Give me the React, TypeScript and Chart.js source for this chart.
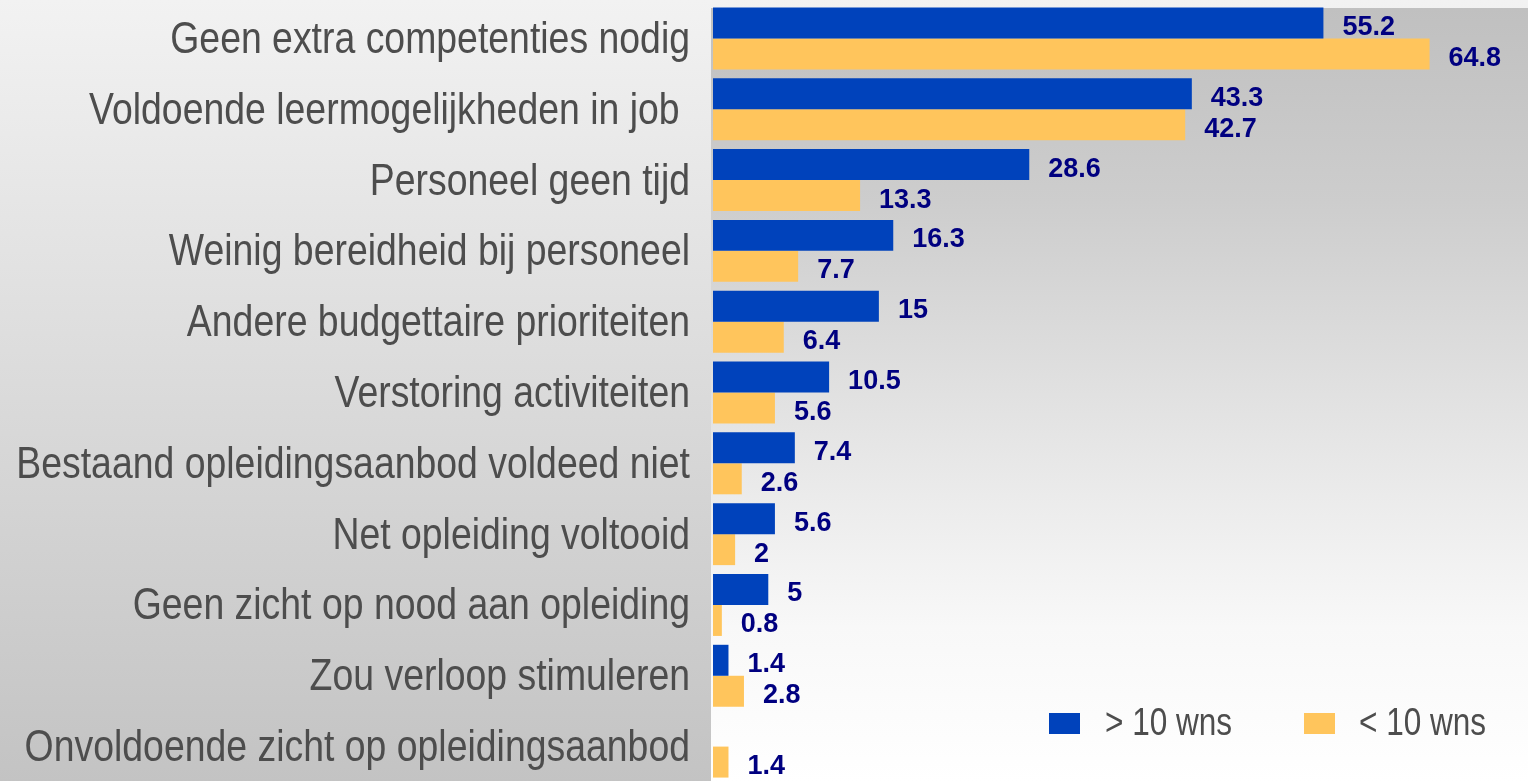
import React, { useEffect, useRef } from "react";
import { Chart, registerables } from "chart.js";

Chart.register(...registerables);

const categories = [
  "Geen extra competenties nodig",
  "Voldoende leermogelijkheden in job ",
  "Personeel geen tijd",
  "Weinig bereidheid bij personeel",
  "Andere budgettaire prioriteiten",
  "Verstoring activiteiten",
  "Bestaand opleidingsaanbod voldeed niet",
  "Net opleiding voltooid",
  "Geen zicht op nood aan opleiding",
  "Zou verloop stimuleren",
  "Onvoldoende zicht op opleidingsaanbod",
];

const seriesNames = ["> 10 wns", "< 10 wns"];
const largeValues: (number | null)[] = [55.2, 43.3, 28.6, 16.3, 15, 10.5, 7.4, 5.6, 5, 1.4, null];
const smallValues: (number | null)[] = [64.8, 42.7, 13.3, 7.7, 6.4, 5.6, 2.6, 2, 0.8, 2.8, 1.4];

const BLUE = "#0042bb";
const YELLOW = "#ffc55c";
const LABEL_GRAY = "#4d4d4d";
const NAVY = "#000080";
const SANS = "'Liberation Sans', Arial, sans-serif";

// draw text horizontally condensed (approximates Arial Narrow)
function narrowText(ctx: any, text: string, x: number, y: number, squeeze: number, align: "left" | "right") {
  ctx.save();
  ctx.translate(x, y);
  ctx.scale(squeeze, 1);
  ctx.textAlign = align;
  ctx.fillText(text, 0, 0);
  ctx.restore();
}

const backgroundPlugin = {
  id: "bgPlugin",
  beforeDraw(chart: any) {
    const { ctx, width, height, chartArea } = chart;
    ctx.save();
    const g = ctx.createLinearGradient(0, 0, 0, height);
    g.addColorStop(0, "#f2f2f2");
    g.addColorStop(1, "#c3c3c3");
    ctx.fillStyle = g;
    ctx.fillRect(0, 0, width, height);
    const top = 8;
    const left = chartArea.left - 2;
    const g2 = ctx.createLinearGradient(0, top, 0, height);
    g2.addColorStop(0, "#c0c0c0");
    g2.addColorStop(0.25, "#cdcdcd");
    g2.addColorStop(0.5, "#e1e1e1");
    g2.addColorStop(0.8, "#f8f8f8");
    g2.addColorStop(1, "#ffffff");
    ctx.fillStyle = g2;
    ctx.fillRect(left, top, width - left, height - top);
    ctx.restore();
  },
};

const categoryLabelPlugin = {
  id: "categoryLabels",
  afterDraw(chart: any) {
    const { ctx } = chart;
    const yScale = chart.scales.y;
    ctx.save();
    ctx.font = `44px ${SANS}`;
    ctx.fillStyle = LABEL_GRAY;
    ctx.textBaseline = "alphabetic";
    (chart.data.labels as string[]).forEach((lab: string, i: number) => {
      const y = yScale.getPixelForTick(i);
      narrowText(ctx, lab, chart.chartArea.left - 23, y + 14.5, 0.85, "right");
    });
    ctx.restore();
  },
};

const valueLabelPlugin = {
  id: "valueLabels",
  afterDatasetsDraw(chart: any) {
    const { ctx } = chart;
    ctx.save();
    ctx.font = `bold 27px ${SANS}`;
    ctx.fillStyle = NAVY;
    ctx.textAlign = "left";
    ctx.textBaseline = "alphabetic";
    chart.data.datasets.forEach((ds: any, di: number) => {
      const meta = chart.getDatasetMeta(di);
      meta.data.forEach((bar: any, i: number) => {
        const v = ds.data[i];
        if (v === null || v === undefined) return;
        ctx.fillText(String(v), bar.x + 19, bar.y + 12);
      });
    });
    ctx.restore();
  },
};

const legendPlugin = {
  id: "customLegend",
  afterDraw(chart: any) {
    const { ctx } = chart;
    const items = [
      { box: 1049, text: 1105 },
      { box: 1304, text: 1359 },
    ];
    ctx.save();
    ctx.font = `38px ${SANS}`;
    ctx.textBaseline = "alphabetic";
    chart.data.datasets.forEach((ds: any, i: number) => {
      const it = items[i];
      ctx.fillStyle = ds.backgroundColor;
      ctx.fillRect(it.box, 713, 31, 21);
      ctx.fillStyle = LABEL_GRAY;
      narrowText(ctx, ds.label, it.text, 735, 0.83, "left");
    });
    ctx.restore();
  },
};

export default function App() {
  const ref = useRef<HTMLCanvasElement | null>(null);
  useEffect(() => {
    if (!ref.current) return;
    const chart = new Chart(ref.current, {
      type: "bar",
      data: {
        labels: categories,
        datasets: [
          { label: seriesNames[0], data: largeValues, backgroundColor: BLUE, categoryPercentage: 0.875, barPercentage: 1 },
          { label: seriesNames[1], data: smallValues, backgroundColor: YELLOW, categoryPercentage: 0.875, barPercentage: 1 },
        ],
      },
      options: {
        indexAxis: "y",
        animation: false,
        responsive: false,
        devicePixelRatio: 1,
        layout: { padding: { top: 3, bottom: 0, left: 0, right: 0 } },
        plugins: { legend: { display: false }, tooltip: { enabled: false } },
        scales: {
          x: { display: false, min: 0, max: 73.7 },
          y: {
            grid: { display: false, drawTicks: false },
            border: { display: false },
            ticks: { display: false },
            afterFit(scale: any) {
              scale.width = 713;
            },
          },
        },
      },
      plugins: [backgroundPlugin, valueLabelPlugin, categoryLabelPlugin, legendPlugin],
    } as any);
    return () => chart.destroy();
  }, []);
  return (
    <div style={{ position: "fixed", left: 0, top: 0, width: 1528, height: 782, overflow: "hidden" }}>
      <canvas ref={ref} width={1528} height={782} style={{ display: "block" }} />
    </div>
  );
}
